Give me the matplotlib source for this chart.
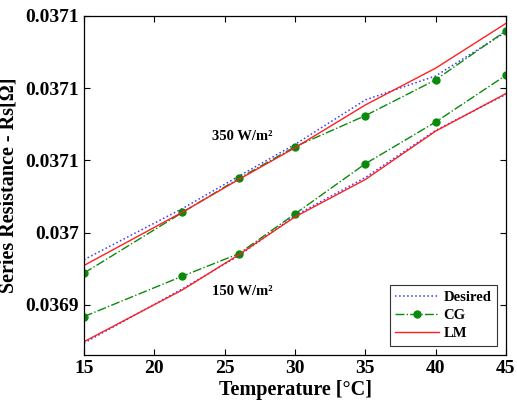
import numpy as np
import matplotlib
matplotlib.use('Agg')
import matplotlib.pyplot as plt

# temperature points [C]
temp = [15, 22, 26, 30, 35, 40, 45]

# 350 W/m2 curves
des_350 = [0.0369813, 0.0370167, 0.0370391, 0.0370611, 0.0370919, 0.0371085, 0.0371389]
cg_350 = [0.0369720, 0.0370140, 0.0370375, 0.0370595, 0.0370810, 0.0371058, 0.0371398]
lm_350 = [0.0369773, 0.0370142, 0.0370368, 0.0370588, 0.0370884, 0.0371139, 0.0371449]

# 150 W/m2 curves
des_150 = [0.0369236, 0.0369611, 0.0369840, 0.0370118, 0.0370382, 0.0370708, 0.0370958]
cg_150 = [0.0369419, 0.0369699, 0.0369854, 0.0370130, 0.0370477, 0.0370766, 0.0371090]
lm_150 = [0.0369245, 0.0369604, 0.0369847, 0.0370109, 0.0370368, 0.0370703, 0.0370963]

yticks = [0.03695, 0.03700, 0.03705, 0.03710, 0.03715]
ytick_labels = ['0.0369', '0.037', '0.0371', '0.0371', '0.0371']
xticks = [15, 20, 25, 30, 35, 40, 45]

plt.rcParams['font.family'] = ['Liberation Serif', 'DejaVu Serif']
plt.rcParams['font.weight'] = 'bold'

fig = plt.figure(figsize=(5.17, 4.07), dpi=100)
ax = fig.add_axes([0.1625, 0.1278, 0.8162, 0.8329])

ax.plot(temp, des_350, ':', color='#3a3aff', lw=1.1, label='Desired')
ax.plot(temp, cg_350, '-.', color='#0a8a0a', lw=1.0, marker='o', ms=5, label='CG')
ax.plot(temp, lm_350, '-', color='#ff2020', lw=1.0, label='LM')
ax.plot(temp, des_150, ':', color='#3a3aff', lw=1.1)
ax.plot(temp, cg_150, '-.', color='#0a8a0a', lw=1.0, marker='o', ms=5)
ax.plot(temp, lm_150, '-', color='#ff2020', lw=1.0)

ax.set_xlim(15, 45)
ax.set_ylim(0.0369153, 0.03715)
ax.set_xticks(xticks)
ax.set_xticklabels([str(t) for t in xticks])
ax.set_yticks(yticks)
ax.set_yticklabels(ytick_labels)
ax.tick_params(direction='in', top=True, right=True, labelsize=14, length=4, width=0.8)
for lab in ax.get_xticklabels() + ax.get_yticklabels():
    lab.set_fontweight('bold')
for s in ax.spines.values():
    s.set_linewidth(0.9)

ax.set_xlabel('Temperature [°C]', fontsize=14.5, fontweight='bold', labelpad=2)
ax.set_ylabel('Series Resistance - Rs[Ω]', fontsize=14.5, fontweight='bold', labelpad=5)

ax.text(24.1, 0.0370667, '350 W/m²', fontsize=10.5, fontweight='bold', va='center')
ax.text(24.1, 0.0369590, '150 W/m²', fontsize=10.5, fontweight='bold', va='center')

leg = ax.legend(loc='lower right', fontsize=10.5, frameon=True, fancybox=False,
                edgecolor='black', handlelength=3.0, borderaxespad=0.6,
                labelspacing=0.35, handletextpad=0.3)
leg.get_frame().set_linewidth(0.8)
for t in leg.get_texts():
    t.set_fontweight('bold')

fig.savefig('out.png', dpi=100)
